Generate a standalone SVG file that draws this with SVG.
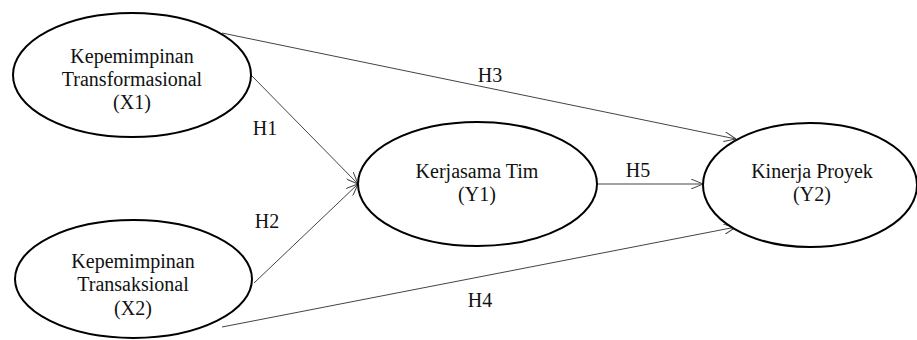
<svg xmlns="http://www.w3.org/2000/svg" width="917" height="340" viewBox="0 0 917 340">
<defs>
<style>
.node ellipse{fill:#fff;stroke:#000;stroke-width:2}
text{font-family:"Liberation Serif","Times New Roman",serif;font-size:20px;fill:#111;text-anchor:middle}
.edge{stroke:#444;stroke-width:1;fill:none;marker-end:url(#arr)}
</style>
<marker id="arr" viewBox="0 0 12 10" refX="12" refY="5" markerWidth="12" markerHeight="10" markerUnits="userSpaceOnUse" orient="auto">
<path d="M0,0 L12,5 L0,10" fill="none" stroke="#444" stroke-width="1"/>
</marker>
</defs>
<rect width="917" height="340" fill="#fff"/>
<g id="connectors">
<line class="edge" x1="222" y1="33" x2="736" y2="139"/>
<line class="edge" x1="251" y1="75" x2="358" y2="184"/>
<line class="edge" x1="254" y1="283" x2="358" y2="184"/>
<line class="edge" x1="597" y1="184" x2="703" y2="184"/>
<line class="edge" x1="222" y1="327" x2="736" y2="227"/>
<text x="490" y="82">H3</text>
<text x="265" y="135">H1</text>
<text x="267" y="228">H2</text>
<text x="638" y="177">H5</text>
<text x="480" y="307">H4</text>
</g>
<g id="X1" class="node">
<ellipse cx="132" cy="75" rx="119" ry="62"/>
<text x="132" y="63">Kepemimpinan</text>
<text x="132" y="86">Transformasional</text>
<text x="132" y="109">(X1)</text>
</g>
<g id="X2" class="node">
<ellipse cx="133.5" cy="279" rx="118.5" ry="59"/>
<text x="133" y="268">Kepemimpinan</text>
<text x="133" y="291">Transaksional</text>
<text x="133" y="315">(X2)</text>
</g>
<g id="Y1" class="node">
<ellipse cx="477.5" cy="184" rx="119.5" ry="62"/>
<text x="477" y="178">Kerjasama Tim</text>
<text x="477" y="201">(Y1)</text>
</g>
<g id="Y2" class="node">
<ellipse cx="810" cy="185" rx="107" ry="62"/>
<text x="812" y="178">Kinerja Proyek</text>
<text x="812" y="201">(Y2)</text>
</g>
</svg>
